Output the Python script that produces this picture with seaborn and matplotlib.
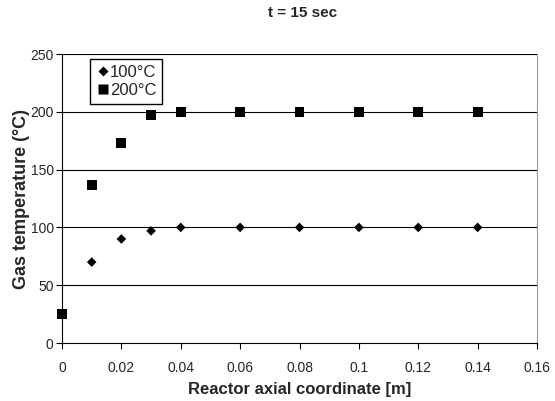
import seaborn as sns
import pandas as pd
import matplotlib.pyplot as plt

x = [0, 0.01, 0.02, 0.03, 0.04, 0.06, 0.08, 0.1, 0.12, 0.14]
t100 = [25, 70, 90, 97, 100, 100, 100, 100, 100, 100]
t200 = [25, 137, 173, 197, 200, 200, 200, 200, 200, 200]

sns.set_style("white")
plt.rcParams['font.family'] = ['Liberation Sans', 'DejaVu Sans']

data = pd.DataFrame({
    "x": x + x,
    "T": t100 + t200,
    "series": ["100°C"] * len(x) + ["200°C"] * len(x),
})

fig = plt.figure(figsize=(5.55, 4.01), dpi=100)
ax = fig.add_axes([0.1117, 0.1446, 0.8559, 0.7207])
ax.set_axisbelow(True)
for y in [50, 100, 150, 200, 250]:
    ax.axhline(y, color="black", lw=0.8, zorder=0)

sns.scatterplot(data=data, x="x", y="T", hue="series", style="series",
                markers={"100°C": "D", "200°C": "s"},
                palette={"100°C": "black", "200°C": "black"},
                size="series", sizes={"100°C": 24, "200°C": 50},
                edgecolor="none", ax=ax, zorder=3, clip_on=False)

ax.set_xlim(0, 0.16)
ax.set_ylim(0, 250)
ax.set_xticks([0, 0.02, 0.04, 0.06, 0.08, 0.1, 0.12, 0.14, 0.16])
ax.set_xticklabels(["0", "0.02", "0.04", "0.06", "0.08", "0.1", "0.12", "0.14", "0.16"])
ax.set_yticks([0, 50, 100, 150, 200, 250])
ax.tick_params(axis="both", labelsize=10, length=4, width=0.8, color="black",
               direction="out", bottom=True, left=True)
ax.tick_params(axis="x", pad=9)
ax.tick_params(axis="y", pad=2)
for s in ["left", "bottom"]:
    ax.spines[s].set_color("black")
    ax.spines[s].set_linewidth(0.8)
ax.spines["top"].set_visible(False)
ax.spines["right"].set_color("#999999")
ax.spines["right"].set_linewidth(0.8)

ax.set_xlabel("Reactor axial coordinate [m]", fontsize=12, fontweight="bold", labelpad=5)
ax.set_ylabel("Gas temperature (°C)", fontsize=13, fontweight="bold")
ax.yaxis.set_label_coords(-0.068, 0.5)
fig.suptitle("t = 15 sec", fontsize=11, fontweight="bold", x=0.545, y=0.985)

handles, labels = ax.get_legend_handles_labels()
ax.legend(handles, labels, loc="upper left", bbox_to_anchor=(0.059, 0.983),
          borderaxespad=0, fontsize=12, frameon=True, fancybox=False,
          edgecolor="black", handletextpad=0.05, borderpad=0.35,
          labelspacing=0.2, handlelength=0.8, framealpha=1)

fig.savefig("out.png", dpi=100)
